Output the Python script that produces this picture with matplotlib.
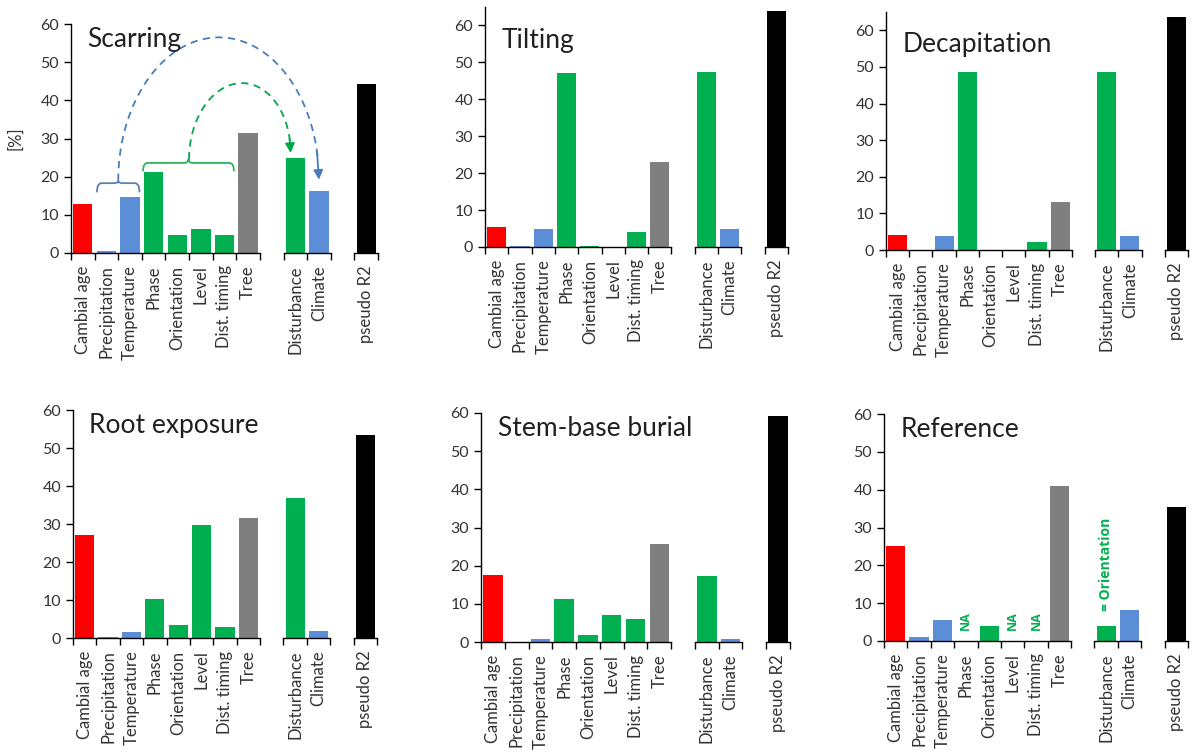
import numpy as np
import matplotlib.pyplot as plt
from matplotlib.path import Path
from matplotlib.patches import PathPatch

plt.rcParams['font.family'] = ['Lato', 'DejaVu Sans']

# categories
predictors = ['Cambial age', 'Precipitation', 'Temperature', 'Phase',
              'Orientation', 'Level', 'Dist. timing', 'Tree']
groups = ['Disturbance', 'Climate']
fit = ['pseudo R2']

RED, BLUE, GREEN, GREY = '#FF0000', '#5B8ED6', '#00B050', '#7F7F7F'
pred_colors = [RED, BLUE, BLUE, GREEN, GREEN, GREEN, GREEN, GREY]
group_colors = [GREEN, BLUE]
fit_colors = ['black']

titles = ['Scarring', 'Tilting', 'Decapitation',
          'Root exposure', 'Stem-base burial', 'Reference']

# values [%]
scarring_pred = [12.8, 0.4, 14.7, 21.3, 4.6, 6.2, 4.6, 31.4]
scarring_group = [25.0, 16.2]
scarring_r2 = [44.3]

tilting_pred = [5.4, 0.4, 5.0, 47.0, 0.4, 0.0, 4.0, 23.0]
tilting_group = [47.5, 5.0]
tilting_r2 = [63.8]

decap_pred = [4.2, 0.0, 3.8, 48.5, 0.0, 0.0, 2.3, 13.1]
decap_group = [48.5, 3.8]
decap_r2 = [63.5]

root_pred = [27.1, 0.35, 1.5, 10.3, 3.3, 29.7, 3.0, 31.6]
root_group = [36.8, 1.9]
root_r2 = [53.5]

stem_pred = [17.6, 0.0, 0.9, 11.2, 1.9, 7.1, 6.0, 25.7]
stem_group = [17.2, 0.9]
stem_r2 = [59.1]

ref_pred = [25.1, 1.1, 5.5, np.nan, 4.0, np.nan, np.nan, 41.1]  # NA: Phase, Level, Dist. timing
ref_group = [4.0, 8.1]
ref_r2 = [35.4]

W, H = 1198, 756
fig = plt.figure(figsize=(W / 100, H / 100), dpi=100)

# panel boxes in pixels: left, top, right, bottom
boxes = [(71, 24, 378, 253), (485, 7, 788, 247), (886, 12, 1188, 250),
         (73, 410, 377, 638), (481, 413, 790, 642), (884, 414, 1188, 641)]
ymaxes = [60, 65, 65, 60, 60, 60]
data = [(scarring_pred, scarring_group, scarring_r2),
        (tilting_pred, tilting_group, tilting_r2),
        (decap_pred, decap_group, decap_r2),
        (root_pred, root_group, root_r2),
        (stem_pred, stem_group, stem_r2),
        (ref_pred, ref_group, ref_r2)]

LABEL_C = '#333333'


def draw_panel(box, title, vals, ymax):
    left, top, right, bottom = box
    slot = (right - left) / 13
    hgt = bottom - top
    axes = []
    for (start, n), v, labels, cols in zip([(0, 8), (9, 2), (12, 1)], vals,
                                           [predictors, groups, fit],
                                           [pred_colors, group_colors, fit_colors]):
        ax = fig.add_axes([(left + start * slot) / W, 1 - bottom / H,
                           n * slot / W, hgt / H])
        ax.patch.set_visible(False)
        x = np.arange(n)
        ax.bar(x, v, width=0.82, color=cols)
        ax.set_xlim(-0.5, n - 0.5)
        ax.set_ylim(0, ymax)
        ax.set_xticks(x)
        ax.set_xticklabels(labels, rotation=90, fontsize=12, color=LABEL_C)
        ax.set_xticks(np.arange(n + 1) - 0.5, minor=True)
        ax.tick_params(axis='x', which='major', length=0, pad=9)
        ax.tick_params(axis='x', which='minor', length=5, width=1, direction='out')
        for s in ['top', 'right']:
            ax.spines[s].set_visible(False)
        ax.spines['bottom'].set_linewidth(1)
        axes.append(ax)
    main = axes[0]
    main.set_yticks(range(0, 61, 10))
    main.tick_params(axis='y', length=5, width=1, labelsize=11.5, labelcolor=LABEL_C)
    main.spines['left'].set_linewidth(1)
    for ax in axes[1:]:
        ax.spines['left'].set_visible(False)
        ax.set_yticks([])
    main.text(0.2, 56, title, fontsize=19, color='#202020', ha='left', va='center')
    return main, axes


def brace(ax, x1, x2, y, h, tip, color):
    xm = (x1 + x2) / 2
    d = 0.2
    verts = [(x1, y - h), (x1, y), (x1 + d, y), (xm - d, y), (xm, y), (xm, y + tip),
             (xm, y), (xm + d, y), (x2 - d, y), (x2, y), (x2, y - h)]
    codes = [Path.MOVETO, Path.CURVE3, Path.CURVE3, Path.LINETO, Path.CURVE3, Path.CURVE3,
             Path.CURVE3, Path.CURVE3, Path.LINETO, Path.CURVE3, Path.CURVE3]
    ax.add_patch(PathPatch(Path(verts, codes), fill=False, edgecolor=color, lw=1.3,
                           clip_on=False))


def arc(ax, x0, y0, x1, y1, ytop, color):
    t = np.linspace(np.pi, 0, 80)
    a = (x1 - x0) / 2
    xs = (x0 + x1) / 2 + a * np.cos(t)
    b = ytop - (y0 + y1) / 2
    ys = y0 + (y1 - y0) * (xs - x0) / (x1 - x0) + b * np.sin(t)
    ax.plot(xs[:-4], ys[:-4], ls=(0, (4, 3)), color=color, lw=1.3, clip_on=False)
    ax.annotate('', xy=(xs[-1], ys[-1]), xytext=(xs[-6], ys[-6]),
                arrowprops=dict(arrowstyle='-|>', color=color, lw=1.3,
                                mutation_scale=14, shrinkA=0, shrinkB=0),
                annotation_clip=False)


mains = []
for box, title, vals, ymax in zip(boxes, titles, data, ymaxes):
    main, axes = draw_panel(box, title, vals, ymax)
    mains.append((main, axes))

# Scarring annotations
sc = mains[0][0]
sc.set_ylabel('[%]', fontsize=12, color=LABEL_C, labelpad=12)
pos_dist = len(predictors) + 1 + groups.index('Disturbance')
pos_clim = len(predictors) + 1 + groups.index('Climate')
brace(sc, 0.6, 2.4, 18.3, 2.4, 0.6, '#5A7FB0')
brace(sc, 2.55, 6.4, 23.6, 2.2, 1.0, '#2DB35A')
arc(sc, 1.5, 18.9, pos_clim, 19.2, 56.5, '#4A7EBB')
arc(sc, 4.5, 24.6, pos_dist - 0.2, 26.2, 44.5, '#00A84C')

# Reference panel notes
rf_main, rf_axes = mains[5]
note = dict(rotation=90, ha='center', va='bottom', color=GREEN, fontweight='bold',
            family=['Open Sans', 'DejaVu Sans'])
for i, v in enumerate(ref_pred):
    if np.isnan(v):
        rf_main.text(i, 3.0, 'NA', fontsize=9, **note)
rf_axes[1].text(groups.index('Disturbance'), 8.0, '= Orientation', fontsize=10, **note)

fig.savefig('out.png', dpi=100)
